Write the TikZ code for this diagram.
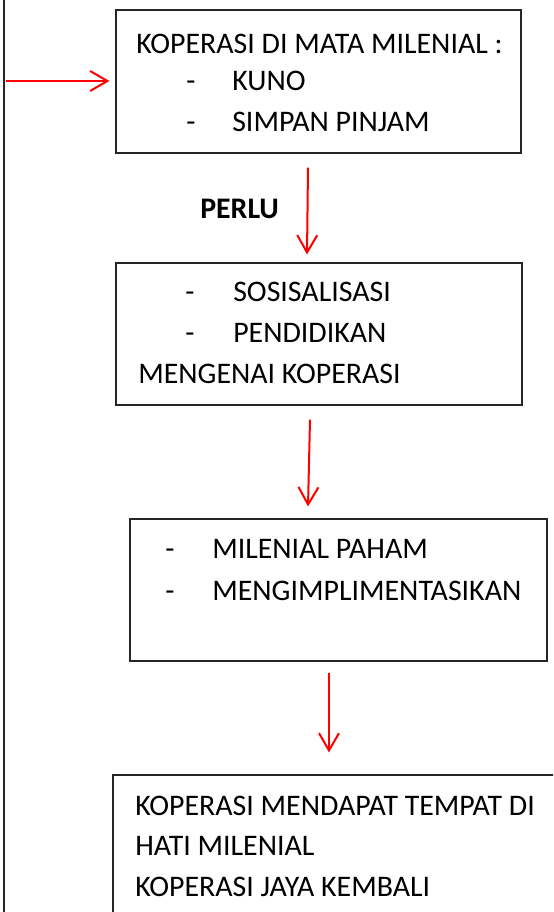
\documentclass[tikz,border=0pt]{standalone}
\usepackage{fontspec}
\setmainfont{Carlito}
\usetikzlibrary{arrows.meta,fit}
\begin{document}
\begin{tikzpicture}[x=0.75pt,y=-0.75pt,
  box/.style={draw=black!85,line width=0.8pt,inner sep=0pt},
  txt/.style={anchor=base west,inner sep=0pt,font=\fontsize{22.4}{26}\selectfont},
  arr/.style={draw=red,line width=1.5pt,-{Straight Barb[length=13pt,width=15pt,line width=1.5pt]}}]
\useasboundingbox (0,0) rectangle (553,912);
\clip (0,0) rectangle (553,912);
\fill[white] (0,0) rectangle (553,912);
% left vertical line
\draw[line width=0.8pt,black!85] (4,-2) -- (4,914);
\coordinate (lstart) at (6,81);
% boxes
\node[box,fit={(116,10) (521,153)}] (b1) {};
\node[box,fit={(116,263) (522,405)}] (b2) {};
\node[box,fit={(130,519) (547,661)}] (b3) {};
\node[box,fit={(113,775) (560,920)}] (b4) {};
% box 1 text
\node[txt] (t1a) at (136,54) {KOPERASI DI MATA MILENIAL :};
\node[txt] (t1b) at (186,91) {-};
\node[txt] (t1c) at (232,91) {KUNO};
\node[txt] (t1d) at (186,132) {-};
\node[txt] (t1e) at (232,132) {SIMPAN PINJAM};
% PERLU
\node[txt,font=\fontsize{22.4}{26}\selectfont\bfseries] (perlu) at (200,219) {PERLU};
% box 2 text
\node[txt] (t2a) at (185,302) {-};
\node[txt] (t2b) at (233,302) {SOSISALISASI};
\node[txt] (t2c) at (185,343) {-};
\node[txt] (t2d) at (233,343) {PENDIDIKAN};
\node[txt] (t2e) at (138,383) {MENGENAI KOPERASI};
% box 3 text
\node[txt] (t3a) at (165,558) {-};
\node[txt] (t3b) at (212,558) {MILENIAL PAHAM};
\node[txt] (t3c) at (165,600) {-};
\node[txt] (t3d) at (212,600) {MENGIMPLIMENTASIKAN};
% box 4 text
\node[txt] (t4a) at (135,815) {KOPERASI MENDAPAT TEMPAT DI};
\node[txt] (t4b) at (135,855) {HATI MILENIAL};
\node[txt] (t4c) at (135,896) {KOPERASI JAYA KEMBALI};
% arrows
\draw[arr] (lstart) -- ([xshift=-6*0.75pt]b1.west |- lstart);
\draw[arr] ([xshift=-10.5*0.75pt,yshift=-14*0.75pt]b1.south) -- ([xshift=-12*0.75pt,yshift=8*0.75pt]b2.north);
\draw[arr] ([xshift=-9*0.75pt,yshift=-14*0.75pt]b2.south) -- ([xshift=-30.5*0.75pt,yshift=12*0.75pt]b3.north);
\draw[arr] ([xshift=-9.5*0.75pt,yshift=-11*0.75pt]b3.south) -- ([xshift=-7.5*0.75pt,yshift=22*0.75pt]b4.north);
\end{tikzpicture}
\end{document}
